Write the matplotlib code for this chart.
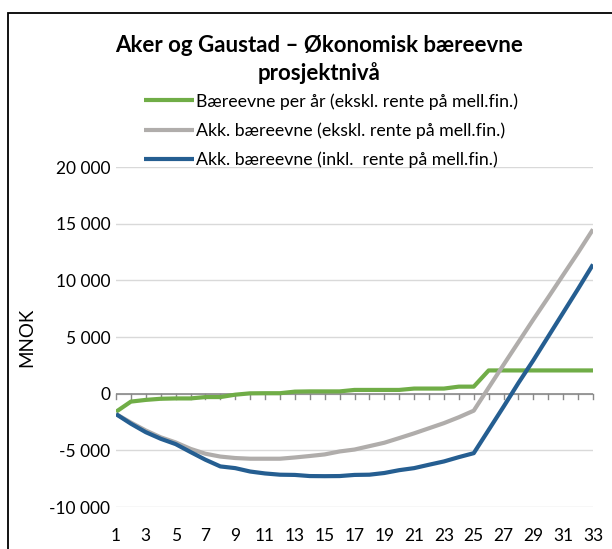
import matplotlib
matplotlib.use("Agg")
import matplotlib.pyplot as plt
from matplotlib.patches import Rectangle
from matplotlib.ticker import FuncFormatter

plt.rcParams["font.family"] = ["Lato", "DejaVu Sans"]

years = list(range(1, 34))

# MNOK per year / accumulated
baereevne_aar = [-1600, -700, -550, -450, -420, -420, -300, -300, -90, 30,
                 40, 40, 180, 200, 200, 200, 330, 330, 330, 330,
                 450, 450, 450, 620, 620, 2050, 2050, 2050, 2050, 2050,
                 2050, 2050, 2050]
akk_ekskl = [-1800, -2550, -3250, -3850, -4300, -4870, -5300, -5550, -5680, -5740,
             -5740, -5740, -5630, -5500, -5360, -5100, -4930, -4630, -4330, -3920,
             -3500, -3050, -2600, -2080, -1500, 530, 2550, 4550, 6550, 8500,
             10480, 12450, 14500]
akk_inkl = [-1800, -2650, -3400, -3980, -4450, -5150, -5830, -6420, -6570, -6870,
            -7040, -7150, -7170, -7270, -7280, -7270, -7170, -7150, -7000, -6750,
            -6570, -6270, -5980, -5600, -5250, -3200, -1150, 950, 2950, 5050,
            7150, 9250, 11400]

series = [
    ("Bæreevne per år (ekskl. rente på mell.fin.)", baereevne_aar, "#70AD47"),
    ("Akk. bæreevne (ekskl. rente på mell.fin.)", akk_ekskl, "#B0ADAB"),
    ("Akk. bæreevne (inkl.  rente på mell.fin.)", akk_inkl, "#255E91"),
]

fig = plt.figure(figsize=(6.12, 5.49), dpi=100)
ax = fig.add_axes([116 / 612, 1 - 507 / 549, 477 / 612, 340 / 549])

# chart frame (runs off the right and bottom edge)
fig.patches.append(Rectangle((8 / 612, -0.1), 1.2, 1 - 13 / 549 + 0.1,
                             transform=fig.transFigure, fill=False,
                             edgecolor="black", linewidth=1.3))

for name, vals, col in series:
    ax.plot(years, vals, color=col, linewidth=3.0, label=name,
            solid_capstyle="butt", zorder=3)

ax.set_xlim(1, 33)
ax.set_ylim(-10000, 20000)
ax.set_yticks(range(-10000, 20001, 5000))
ax.yaxis.set_major_formatter(FuncFormatter(lambda v, p: f"{int(v):,}".replace(",", " ")))
ax.set_xticks(range(1, 34, 2))
ax.grid(axis="y", color="#D9D9D9", linewidth=1.0, zorder=0)
for s in ax.spines.values():
    s.set_visible(False)
ax.tick_params(axis="both", length=0, labelsize=12.5, colors="black")
ax.tick_params(axis="x", pad=15)
ax.tick_params(axis="y", pad=4)

# zero axis line with tick marks at every year
ax.axhline(0, color="#898989", linewidth=1.2, zorder=2)
for yr in years:
    ax.plot([yr, yr], [0, -480], color="#898989", linewidth=1.0, zorder=2,
            clip_on=False)

ax.set_ylabel("MNOK", fontsize=13.5, labelpad=10)

fig.text(0.521, 1 - 45 / 549, "Aker og Gaustad – Økonomisk bæreevne",
         ha="center", va="center", fontsize=16, fontweight="bold")
fig.text(0.521, 1 - 73 / 549, "prosjektnivå",
         ha="center", va="center", fontsize=16, fontweight="bold")

leg = ax.legend(loc="upper left", bbox_to_anchor=(144 / 612, 1 - 93 / 549),
                bbox_transform=fig.transFigure, frameon=False, fontsize=12.8,
                handlelength=2.8, handletextpad=0.1, labelspacing=0.72,
                borderpad=0, borderaxespad=0)

fig.savefig("out.png", dpi=100)
